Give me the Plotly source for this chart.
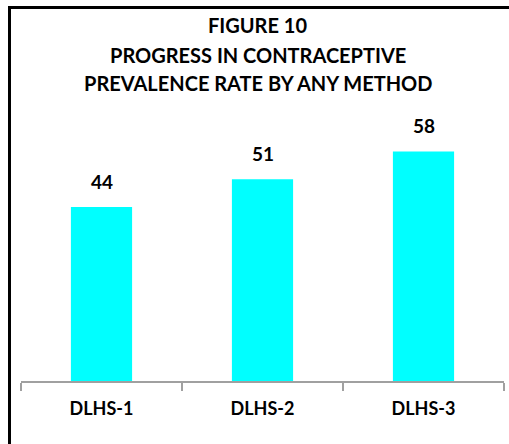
import plotly.graph_objects as go

# Survey rounds and contraceptive prevalence (%) by any method
rounds = ["DLHS-1", "DLHS-2", "DLHS-3"]
prevalence = [44, 51, 58]
title_lines = ["FIGURE 10", "PROGRESS IN CONTRACEPTIVE", "PREVALENCE RATE BY ANY METHOD"]

W, H = 509, 444
ML, MR, MT, MB = 21, 5, 104, 63
FONT = "Lato"
BAR_COLOR = "#00FFFF"
AXIS_COLOR = "#A0A0A0"


def px_x(px):
    """Convert a horizontal pixel position to paper coordinates."""
    return (px - ML) / (W - ML - MR)


def px_y(py):
    """Convert a vertical pixel position (from top) to paper coordinates."""
    return (H - MB - py) / (H - MT - MB)


fig = go.Figure(
    go.Bar(
        x=rounds,
        y=prevalence,
        marker=dict(color=BAR_COLOR, line=dict(width=0)),
        hoverinfo="x+y",
    )
)

# value labels above each bar
for r, v in zip(rounds, prevalence):
    fig.add_annotation(
        x=r, y=v, xref="x", yref="y", text=f"<b>{v}</b>", showarrow=False,
        yanchor="bottom", yshift=12,
        font=dict(family=FONT, size=19, color="black"),
    )

# three-line title, centred on the figure
for line, py in zip(title_lines, [25, 55, 83]):
    fig.add_annotation(
        x=px_x(W / 2 + 3), y=px_y(py), xref="paper", yref="paper",
        text=f"<b>{line}</b>", showarrow=False, xanchor="center", yanchor="middle",
        font=dict(family=FONT, size=20, color="black"),
    )

# frame around the chart (left and top edges visible)
fig.add_shape(
    type="rect", xref="paper", yref="paper",
    x0=px_x(9.5), x1=px_x(W + 20), y0=px_y(H + 20), y1=px_y(7.5),
    line=dict(color="black", width=3), fillcolor="rgba(0,0,0,0)", layer="above",
)

fig.update_layout(
    width=W, height=H,
    margin=dict(l=ML, r=MR, t=MT, b=MB, pad=0),
    paper_bgcolor="white", plot_bgcolor="white",
    bargap=0.62,
    showlegend=False,
    xaxis=dict(
        showline=True, linecolor=AXIS_COLOR, linewidth=2,
        ticks="outside", ticklen=8, tickwidth=2, tickcolor=AXIS_COLOR,
        tickson="boundaries", showgrid=False, zeroline=False,
        tickfont=dict(family=FONT, size=18, color="black"),
        ticklabelstandoff=10,
        tickprefix="<b>", ticksuffix="</b>",
    ),
    yaxis=dict(range=[0, 70], visible=False, showgrid=False, zeroline=False),
)

fig.write_html("out.html")
